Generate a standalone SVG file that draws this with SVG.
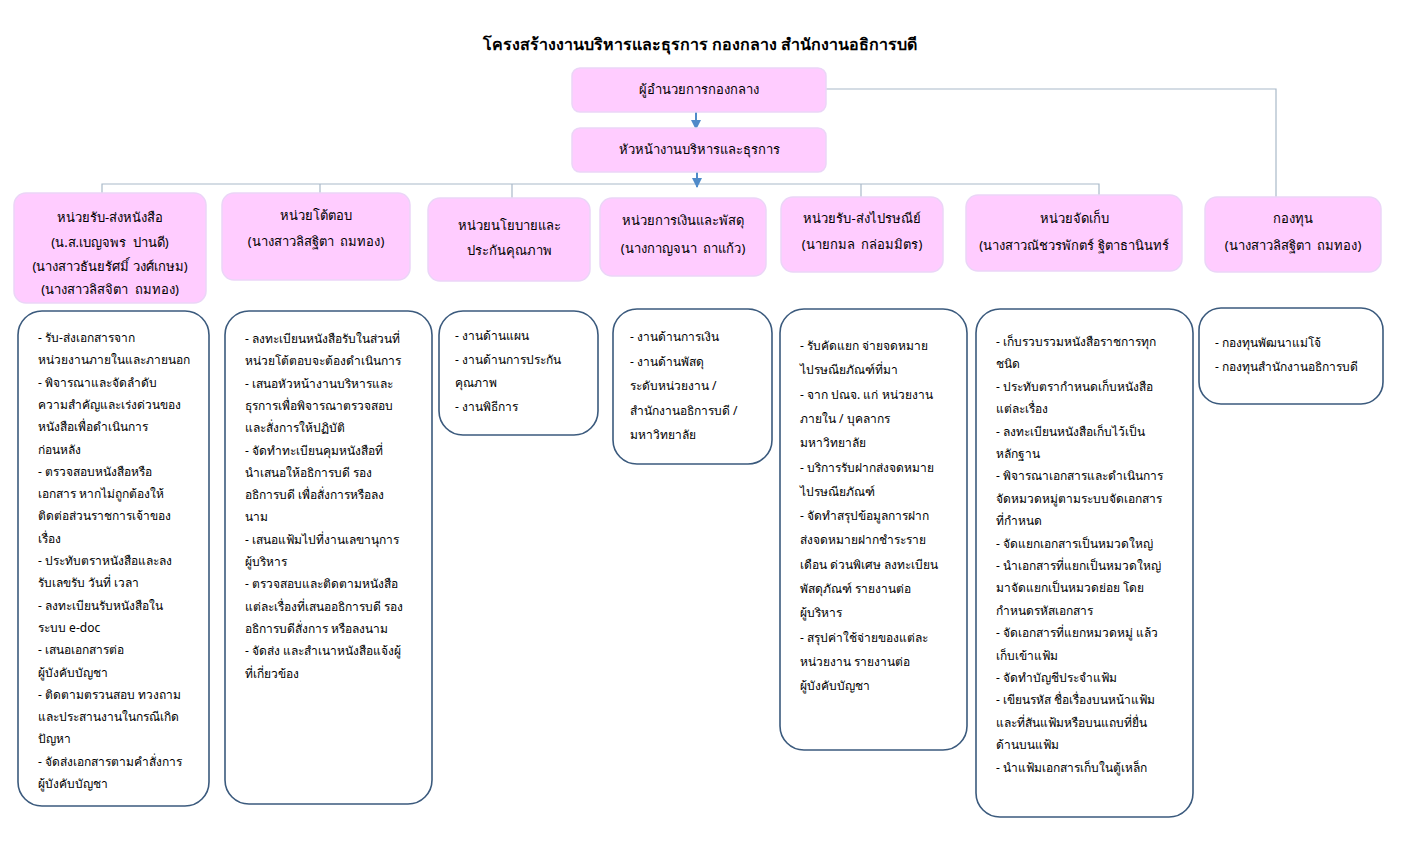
<svg xmlns="http://www.w3.org/2000/svg" width="1401" height="851" viewBox="0 0 1401 851">
<style>
text{font-family:"Noto Sans","DejaVu Sans",sans-serif;fill:#000}
.title{font-size:16px;font-weight:bold;text-anchor:middle}
.hb{fill:#FFCCFF;stroke:#EBD5F7;stroke-width:1.5}
.ht{font-size:13px;text-anchor:middle}
.db{fill:#fff;stroke:#3B5A7D;stroke-width:1.6}
.dt{font-size:12px}
.ln{fill:none;stroke:#A9B9C9;stroke-width:1.2}
.ar{fill:none;stroke:#4F8AC9;stroke-width:2}
</style>
<defs>
<marker id="ah" viewBox="0 0 10 10" refX="9" refY="5" markerUnits="userSpaceOnUse" markerWidth="10" markerHeight="10" orient="auto"><path d="M0,0 L10,5 L0,10 z" fill="#4F8AC9"/></marker>
</defs>
<rect width="1401" height="851" fill="#fff"/>
<text class="title" x="700" y="50">โครงสร้างงานบริหารและธุรการ กองกลาง สำนักงานอธิการบดี</text>

<g id="connectors">
<path class="ln" d="M826,89 H1276 V197"/>
<path class="ln" d="M102,193 V184 H1099 V195"/>
<path class="ln" d="M320,184 V193"/>
<path class="ln" d="M512,184 V198"/>
<path class="ln" d="M861,184 V197"/>
<path class="ar" d="M696,112 V129" marker-end="url(#ah)"/>
<path class="ar" d="M697,172 V187" marker-end="url(#ah)"/>
</g>

<g id="director">
<rect class="hb" x="572" y="68" width="254" height="44" rx="8"/>
<text class="ht" x="699" y="94">ผู้อำนวยการกองกลาง</text>
</g>
<g id="head">
<rect class="hb" x="572" y="128" width="254" height="44" rx="8"/>
<text class="ht" x="699" y="154">หัวหน้างานบริหารและธุรการ</text>
</g>

<g id="unit1">
<rect class="hb" x="14" y="193" width="192" height="110" rx="12"/>
<text class="ht" x="110"><tspan x="110" y="222">หน่วยรับ-ส่งหนังสือ</tspan><tspan x="110" y="247">(น.ส.เบญจพร&#160; ปานดี)</tspan><tspan x="110" y="271">(นางสาวธันยรัศมิ์ วงศ์เกษม)</tspan><tspan x="110" y="294">(นางสาวลิสจิตา&#160; ถมทอง)</tspan></text>
</g>
<g id="unit2">
<rect class="hb" x="222" y="193" width="188" height="87" rx="12"/>
<text class="ht" x="316"><tspan x="316" y="220">หน่วยโต้ตอบ</tspan><tspan x="316" y="246">(นางสาวลิสฐิตา&#160; ถมทอง)</tspan></text>
</g>
<g id="unit3">
<rect class="hb" x="428" y="198" width="162" height="83" rx="12"/>
<text class="ht" x="509"><tspan x="509" y="230">หน่วยนโยบายและ</tspan><tspan x="509" y="255">ประกันคุณภาพ</tspan></text>
</g>
<g id="unit4">
<rect class="hb" x="600" y="198" width="166" height="78" rx="12"/>
<text class="ht" x="683"><tspan x="683" y="225">หน่วยการเงินและพัสดุ</tspan><tspan x="683" y="253">(นางกาญจนา&#160; ถาแก้ว)</tspan></text>
</g>
<g id="unit5">
<rect class="hb" x="781" y="197" width="162" height="75" rx="12"/>
<text class="ht" x="862"><tspan x="862" y="223">หน่วยรับ-ส่งไปรษณีย์</tspan><tspan x="862" y="249">(นายกมล&#160; กล่อมมิตร)</tspan></text>
</g>
<g id="unit6">
<rect class="hb" x="966" y="195" width="216" height="76" rx="12"/>
<text class="ht" x="1074"><tspan x="1074" y="223">หน่วยจัดเก็บ</tspan><tspan x="1074" y="250">(นางสาวณัชวรพักตร์ ฐิตาธานินทร์</tspan></text>
</g>
<g id="unit7">
<rect class="hb" x="1205" y="197" width="176" height="75" rx="12"/>
<text class="ht" x="1293"><tspan x="1293" y="223">กองทุน</tspan><tspan x="1293" y="250">(นางสาวลิสฐิตา&#160; ถมทอง)</tspan></text>
</g>

<g id="duty1">
<rect class="db" x="18" y="311" width="191" height="495" rx="24"/>
<text class="dt"><tspan x="38" y="342">- รับ-ส่งเอกสารจาก</tspan><tspan x="38" y="364.3">หน่วยงานภายในและภายนอก</tspan><tspan x="38" y="386.6">- พิจารณาและจัดลำดับ</tspan><tspan x="38" y="408.9">ความสำคัญและเร่งด่วนของ</tspan><tspan x="38" y="431.2">หนังสือเพื่อดำเนินการ</tspan><tspan x="38" y="453.5">ก่อนหลัง</tspan><tspan x="38" y="475.8">- ตรวจสอบหนังสือหรือ</tspan><tspan x="38" y="498.1">เอกสาร หากไม่ถูกต้องให้</tspan><tspan x="38" y="520.4">ติดต่อส่วนราชการเจ้าของ</tspan><tspan x="38" y="542.7">เรื่อง</tspan><tspan x="38" y="565">- ประทับตราหนังสือและลง</tspan><tspan x="38" y="587.3">รับเลขรับ วันที่ เวลา</tspan><tspan x="38" y="609.6">- ลงทะเบียนรับหนังสือใน</tspan><tspan x="38" y="631.9">ระบบ e-doc</tspan><tspan x="38" y="654.2">- เสนอเอกสารต่อ</tspan><tspan x="38" y="676.5">ผู้บังคับบัญชา</tspan><tspan x="38" y="698.8">- ติดตามตรวนสอบ ทวงถาม</tspan><tspan x="38" y="721.1">และประสานงานในกรณีเกิด</tspan><tspan x="38" y="743.4">ปัญหา</tspan><tspan x="38" y="765.7">- จัดส่งเอกสารตามคำสั่งการ</tspan><tspan x="38" y="788">ผู้บังคับบัญชา</tspan></text>
</g>
<g id="duty2">
<rect class="db" x="225" y="311" width="207" height="493" rx="24"/>
<text class="dt"><tspan x="245" y="343">- ลงทะเบียนหนังสือรับในส่วนที่</tspan><tspan x="245" y="365.3">หน่วยโต้ตอบจะต้องดำเนินการ</tspan><tspan x="245" y="387.6">- เสนอหัวหน้างานบริหารและ</tspan><tspan x="245" y="409.9">ธุรการเพื่อพิจารณาตรวจสอบ</tspan><tspan x="245" y="432.2">และสั่งการให้ปฏิบัติ</tspan><tspan x="245" y="454.5">- จัดทำทะเบียนคุมหนังสือที่</tspan><tspan x="245" y="476.8">นำเสนอให้อธิการบดี รอง</tspan><tspan x="245" y="499.1">อธิการบดี เพื่อสั่งการหรือลง</tspan><tspan x="245" y="521.4">นาม</tspan><tspan x="245" y="543.7">- เสนอแฟ้มไปที่งานเลขานุการ</tspan><tspan x="245" y="566">ผู้บริหาร</tspan><tspan x="245" y="588.3">- ตรวจสอบและติดตามหนังสือ</tspan><tspan x="245" y="610.6">แต่ละเรื่องที่เสนออธิการบดี รอง</tspan><tspan x="245" y="632.9">อธิการบดีสั่งการ หรือลงนาม</tspan><tspan x="245" y="655.2">- จัดส่ง และสำเนาหนังสือแจ้งผู้</tspan><tspan x="245" y="677.5">ที่เกี่ยวข้อง</tspan></text>
</g>
<g id="duty3">
<rect class="db" x="439" y="311" width="159" height="124" rx="24"/>
<text class="dt"><tspan x="455" y="340">- งานด้านแผน</tspan><tspan x="455" y="363.5">- งานด้านการประกัน</tspan><tspan x="455" y="387">คุณภาพ</tspan><tspan x="455" y="410.5">- งานพิธีการ</tspan></text>
</g>
<g id="duty4">
<rect class="db" x="613" y="309" width="159" height="155" rx="24"/>
<text class="dt"><tspan x="630" y="341">- งานด้านการเงิน</tspan><tspan x="630" y="365.5">- งานด้านพัสดุ</tspan><tspan x="630" y="390">ระดับหน่วยงาน /</tspan><tspan x="630" y="414.5">สำนักงานอธิการบดี /</tspan><tspan x="630" y="439">มหาวิทยาลัย</tspan></text>
</g>
<g id="duty5">
<rect class="db" x="780" y="309" width="187" height="441" rx="24"/>
<text class="dt"><tspan x="800" y="350">- รับคัดแยก จ่ายจดหมาย</tspan><tspan x="800" y="374.3">ไปรษณียภัณฑ์ที่มา</tspan><tspan x="800" y="398.6">- จาก ปณจ. แก่ หน่วยงาน</tspan><tspan x="800" y="422.9">ภายใน / บุคลากร</tspan><tspan x="800" y="447.2">มหาวิทยาลัย</tspan><tspan x="800" y="471.5">- บริการรับฝากส่งจดหมาย</tspan><tspan x="800" y="495.8">ไปรษณียภัณฑ์</tspan><tspan x="800" y="520.1">- จัดทำสรุปข้อมูลการฝาก</tspan><tspan x="800" y="544.4">ส่งจดหมายฝากชำระราย</tspan><tspan x="800" y="568.7">เดือน ด่วนพิเศษ ลงทะเบียน</tspan><tspan x="800" y="593">พัสดุภัณฑ์ รายงานต่อ</tspan><tspan x="800" y="617.3">ผู้บริหาร</tspan><tspan x="800" y="641.6">- สรุปค่าใช้จ่ายของแต่ละ</tspan><tspan x="800" y="665.9">หน่วยงาน รายงานต่อ</tspan><tspan x="800" y="690.2">ผู้บังคับบัญชา</tspan></text>
</g>
<g id="duty6">
<rect class="db" x="976" y="309" width="217" height="508" rx="24"/>
<text class="dt"><tspan x="996" y="346">- เก็บรวบรวมหนังสือราชการทุก</tspan><tspan x="996" y="368.4">ชนิด</tspan><tspan x="996" y="390.8">- ประทับตรากำหนดเก็บหนังสือ</tspan><tspan x="996" y="413.2">แต่ละเรื่อง</tspan><tspan x="996" y="435.6">- ลงทะเบียนหนังสือเก็บไว้เป็น</tspan><tspan x="996" y="458">หลักฐาน</tspan><tspan x="996" y="480.4">- พิจารณาเอกสารและดำเนินการ</tspan><tspan x="996" y="502.8">จัดหมวดหมู่ตามระบบจัดเอกสาร</tspan><tspan x="996" y="525.2">ที่กำหนด</tspan><tspan x="996" y="547.6">- จัดแยกเอกสารเป็นหมวดใหญ่</tspan><tspan x="996" y="570">- นำเอกสารที่แยกเป็นหมวดใหญ่</tspan><tspan x="996" y="592.4">มาจัดแยกเป็นหมวดย่อย โดย</tspan><tspan x="996" y="614.8">กำหนดรหัสเอกสาร</tspan><tspan x="996" y="637.2">- จัดเอกสารที่แยกหมวดหมู่ แล้ว</tspan><tspan x="996" y="659.6">เก็บเข้าแฟ้ม</tspan><tspan x="996" y="682">- จัดทำบัญชีประจำแฟ้ม</tspan><tspan x="996" y="704.4">- เขียนรหัส ชื่อเรื่องบนหน้าแฟ้ม</tspan><tspan x="996" y="726.8">และที่สันแฟ้มหรือบนแถบที่ยื่น</tspan><tspan x="996" y="749.2">ด้านบนแฟ้ม</tspan><tspan x="996" y="771.6">- นำแฟ้มเอกสารเก็บในตู้เหล็ก</tspan></text>
</g>
<g id="duty7">
<rect class="db" x="1199" y="308" width="184" height="96" rx="22"/>
<text class="dt"><tspan x="1215" y="347">- กองทุนพัฒนาแม่โจ้</tspan><tspan x="1215" y="371">- กองทุนสำนักงานอธิการบดี</tspan></text>
</g>
</svg>
